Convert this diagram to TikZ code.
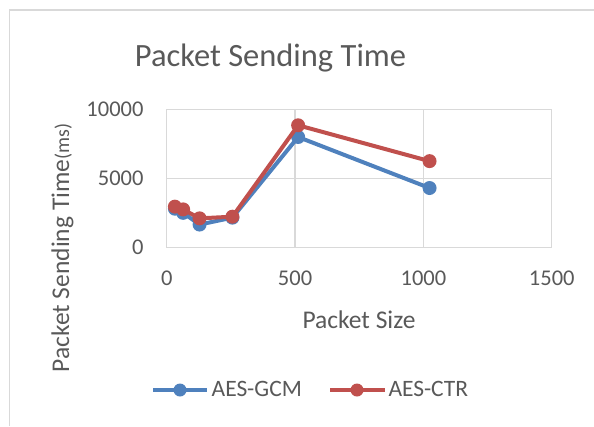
\documentclass[tikz,border=0pt]{standalone}
\usepackage{fontspec}
\setmainfont{Carlito}
\usetikzlibrary{positioning}

\definecolor{gcmblue}{HTML}{4F81BD}
\definecolor{ctrred}{HTML}{C0504D}
\definecolor{txtgray}{HTML}{595959}
\definecolor{gridgray}{HTML}{D9D9D9}

\begin{document}
\begin{tikzpicture}[x=1bp,y=-1bp,
    grid/.style={draw=gridgray,line width=1.3bp},
    ticklbl/.style={text=txtgray,inner sep=0pt,font=\fontsize{22.5bp}{26bp}\selectfont},
    series/.style={line width=4bp,line join=round},
    dot/.style={circle,fill,inner sep=0pt,minimum size=14bp}]
  \useasboundingbox (0,0) rectangle (594,426);
  % chart frame (cut off at right and bottom)
  \draw[draw=gridgray,line width=1.5bp] (9.5,426) -- (9.5,10) -- (594,10);
  \node at (270.5,66) [anchor=base,text=txtgray,font=\fontsize{32.5bp}{38bp}\selectfont] (title) {Packet Sending Time};
  \node at (69,248) [anchor=base,rotate=90,text=txtgray,inner sep=0pt,font=\fontsize{25.5bp}{30bp}\selectfont] (ytitle)
    {Packet Sending Time{\fontsize{20bp}{22bp}\selectfont(ms)}};
  \node at (359,328) [anchor=base,text=txtgray,inner sep=0pt,font=\fontsize{25.5bp}{30bp}\selectfont] (xtitle) {Packet Size};
  \begin{scope}[shift={(166.7,247.3)},x=0.2567bp,y=0.0138bp]
    % plot area
    \draw[grid] (0,0) rectangle (1500,10000);
    \draw[grid] (0,5000) -- (1500,5000);
    \draw[grid] (500,0) -- (500,10000);
    \draw[grid] (1000,0) -- (1000,10000);
    \coordinate (y0) at (0,0);
    \coordinate (y5000) at (0,5000);
    \coordinate (y10000) at (0,10000);
    \node[ticklbl,left=23bp of y0] (ly0) {0};
    \node[ticklbl,left=23bp of y5000] (ly5000) {5000};
    \node[ticklbl,left=23bp of y10000] (ly10000) {10000};
    \coordinate (x500) at (500,0);
    \coordinate (x1000) at (1000,0);
    \coordinate (x1500) at (1500,0);
    \node[ticklbl,below=23bp of y0] (lx0) {0};
    \node[ticklbl,below=23bp of x500] (lx500) {500};
    \node[ticklbl,below=23bp of x1000] (lx1000) {1000};
    \node[ticklbl,below=23bp of x1500] (lx1500) {1500};
    % AES-GCM
    \coordinate (g32) at (32,2800);
    \coordinate (g64) at (64,2500);
    \coordinate (g128) at (128,1650);
    \coordinate (g256) at (256,2150);
    \coordinate (g512) at (512,8000);
    \coordinate (g1024) at (1024,4300);
    \draw[series,gcmblue] (g32) -- (g64) -- (g128) -- (g256) -- (g512) -- (g1024);
    \foreach \p in {g32,g64,g128,g256,g512,g1024}
      \node[dot,gcmblue] at (\p) {};
    % AES-CTR
    \coordinate (c32) at (32,2950);
    \coordinate (c64) at (64,2750);
    \coordinate (c128) at (128,2100);
    \coordinate (c256) at (256,2220);
    \coordinate (c512) at (512,8850);
    \coordinate (c1024) at (1024,6250);
    \draw[series,ctrred] (c32) -- (c64) -- (c128) -- (c256) -- (c512) -- (c1024);
    \foreach \p in {c32,c64,c128,c256,c512,c1024}
      \node[dot,ctrred] at (\p) {};
  \end{scope}
  % legend
  \coordinate (lgA) at (153.3,390);
  \coordinate (lgB) at (206.7,390);
  \draw[series,gcmblue] (lgA) -- (lgB);
  \node[dot,gcmblue,minimum size=13bp] at (180,390) (lgdotA) {};
  \node at (211.5,396.7) [anchor=base west,ticklbl,font=\fontsize{23.5bp}{28bp}\selectfont] (lgtxtA) {AES-GCM};
  \coordinate (lrA) at (330,390);
  \coordinate (lrB) at (385,390);
  \draw[series,ctrred] (lrA) -- (lrB);
  \node[dot,ctrred,minimum size=13bp] at (357,390) (lgdotB) {};
  \node at (388.3,396.7) [anchor=base west,ticklbl,font=\fontsize{23.5bp}{28bp}\selectfont] (lgtxtB) {AES-CTR};
\end{tikzpicture}
\end{document}
